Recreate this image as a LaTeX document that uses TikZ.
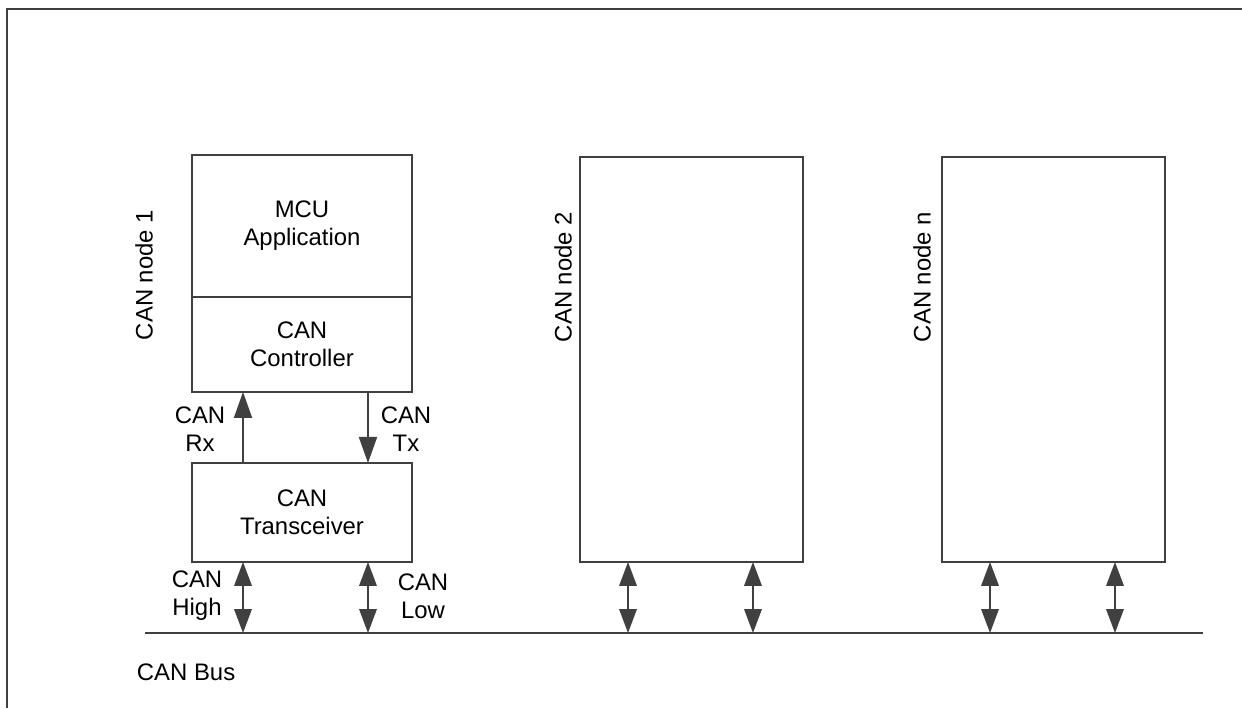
\documentclass[tikz,border=0pt]{standalone}
\usepackage{fontspec}
\setmainfont{Liberation Sans}
\usetikzlibrary{arrows.meta,positioning}
\definecolor{linegray}{HTML}{404040}

\begin{document}
\begin{tikzpicture}[x=0.02cm,y=-0.02cm, line width=1.1pt, color=linegray,
    every node/.style={font=\fontsize{13.6}{16}\selectfont, text=black},
    box/.style={draw, rectangle, minimum width=4.4cm, inner sep=0pt, outer sep=0pt, align=center},
    bigbox/.style={box, minimum width=4.46cm, minimum height=8.1cm},
    lbl/.style={align=center, inner sep=0pt},
    arr/.style={-{Triangle[length=0.52cm,width=0.36cm]}},
    dbl/.style={{Triangle[length=0.48cm,width=0.35cm]}-{Triangle[length=0.48cm,width=0.35cm]}}]
    \useasboundingbox (0,0) rectangle (1242,708);
    % outer frame (only left and top visible)
    \draw (7,708) -- (7,9) -- (1242,9);

    % CAN node 1
    \node[box, minimum height=2.84cm] (mcu) at (302,226) {MCU\\Application};
    \node[box, minimum height=1.9cm, below=0pt of mcu] (ctrl) {CAN\\Controller};
    \node[box, minimum height=1.98cm, below=1.42cm of ctrl] (trx) {CAN\\Transceiver};
    \node[rotate=90] (name1) at (144,275) {CAN node 1};

    % other nodes
    \node[bigbox] (node2) at (691.5,359.5) {};
    \node[bigbox] (noden) at (1053.5,359.5) {};
    \node[rotate=90] (name2) at (563,277) {CAN node 2};
    \node[rotate=90] (namen) at (922,277) {CAN node n};

    % bus
    \coordinate (busL) at (145,633);
    \coordinate (busR) at (1203,633);
    \draw (busL) -- (busR);
    \node[anchor=west, inner sep=0pt] (buslbl) at (136,672) {CAN Bus};

    % Rx / Tx
    \draw[arr] ([xshift=-1.18cm]trx.north) -- ([xshift=-1.18cm]ctrl.south);
    \draw[arr] ([xshift=1.32cm]ctrl.south) -- ([xshift=1.32cm]trx.north);
    \node[lbl] (rx) at (200,429) {CAN\\Rx};
    \node[lbl] (tx) at (406,429) {CAN\\Tx};

    % bus connections
    \foreach \n/\dl/\dr in {trx/-1.18cm/1.32cm, node2/-1.27cm/1.23cm, noden/-1.27cm/1.23cm} {
        \path ([xshift=\dl]\n.south) coordinate (pa) ([xshift=\dr]\n.south) coordinate (pb);
        \draw[dbl] (pa) -- (pa |- busL);
        \draw[dbl] (pb) -- (pb |- busL);
    }
    \node[lbl] (hi) at (197,596) {CAN\\High};
    \node[lbl] (lo) at (423,596) {CAN\\Low};
\end{tikzpicture}
\end{document}
